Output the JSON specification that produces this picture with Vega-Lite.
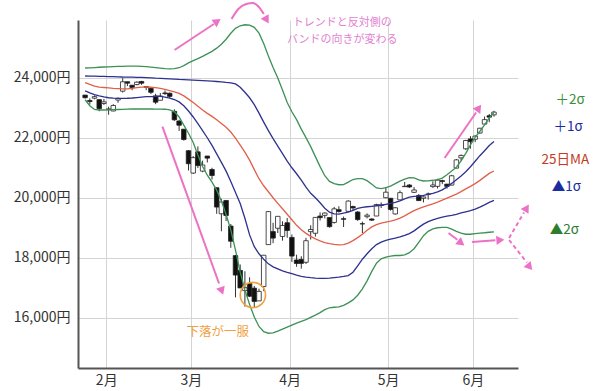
{
  "$schema": "https://vega.github.io/schema/vega-lite/v6.json",
  "width": 440,
  "height": 348,
  "autosize": "none",
  "padding": {"left": 78, "top": 20, "right": 82, "bottom": 23},
  "background": "white",
  "config": {
    "view": {"stroke": null},
    "font": "Noto Sans CJK JP",
    "text": {"font": "Noto Sans CJK JP"},
    "axis": {
      "ticks": false,
      "grid": true,
      "gridColor": "#d4d4d4",
      "gridWidth": 1,
      "domainColor": "#555555",
      "domainWidth": 2,
      "labelFont": "Noto Sans CJK JP",
      "labelFontSize": 14,
      "labelColor": "#333333"
    },
    "axisX": {"labelPadding": 5},
    "axisY": {"labelPadding": 8}
  },
  "datasets": {
    "nikkei": [
      {"date":"2020-01-27","i":0,"o":23431,"h":23431,"l":23316,"c":23343,"up2":24333,"up1":24067,"ma":23849,"dn1":23569,"dn2":23275},
      {"date":"2020-01-28","i":1,"o":23250,"h":23323,"l":23115,"c":23215,"up2":24338,"up1":24063,"ma":23786,"dn1":23503,"dn2":23075},
      {"date":"2020-01-29","i":2,"o":23327,"h":23418,"l":23292,"c":23379,"up2":24348,"up1":24060,"ma":23730,"dn1":23449,"dn2":22951},
      {"date":"2020-01-30","i":3,"o":23279,"h":23290,"l":22892,"c":22977,"up2":24358,"up1":24057,"ma":23699,"dn1":23407,"dn2":22933},
      {"date":"2020-01-31","i":4,"o":23150,"h":23302,"l":23100,"c":23205,"up2":24366,"up1":24053,"ma":23684,"dn1":23369,"dn2":22933},
      {"date":"2020-02-03","i":5,"o":22949,"h":23043,"l":22775,"c":22971,"up2":24373,"up1":24047,"ma":23669,"dn1":23342,"dn2":22936},
      {"date":"2020-02-04","i":6,"o":22901,"h":23127,"l":22892,"c":23084,"up2":24380,"up1":24043,"ma":23655,"dn1":23327,"dn2":22943},
      {"date":"2020-02-05","i":7,"o":23266,"h":23352,"l":23174,"c":23319,"up2":24385,"up1":24040,"ma":23647,"dn1":23323,"dn2":22950},
      {"date":"2020-02-06","i":8,"o":23561,"h":23995,"l":23515,"c":23873,"up2":24390,"up1":24033,"ma":23640,"dn1":23323,"dn2":22956},
      {"date":"2020-02-07","i":9,"o":23875,"h":23875,"l":23729,"c":23827,"up2":24395,"up1":24030,"ma":23638,"dn1":23325,"dn2":22963},
      {"date":"2020-02-10","i":10,"o":23760,"h":23760,"l":23591,"c":23685,"up2":24398,"up1":24027,"ma":23652,"dn1":23333,"dn2":22967},
      {"date":"2020-02-12","i":11,"o":23781,"h":23886,"l":23758,"c":23861,"up2":24397,"up1":24023,"ma":23679,"dn1":23348,"dn2":22967},
      {"date":"2020-02-13","i":12,"o":23885,"h":23903,"l":23773,"c":23827,"up2":24388,"up1":24020,"ma":23699,"dn1":23364,"dn2":22967},
      {"date":"2020-02-14","i":13,"o":23715,"h":23732,"l":23594,"c":23687,"up2":24377,"up1":24010,"ma":23704,"dn1":23376,"dn2":22967},
      {"date":"2020-02-17","i":14,"o":23659,"h":23659,"l":23465,"c":23523,"up2":24362,"up1":24003,"ma":23692,"dn1":23381,"dn2":22967},
      {"date":"2020-02-18","i":15,"o":23403,"h":23475,"l":23128,"c":23193,"up2":24346,"up1":23993,"ma":23676,"dn1":23385,"dn2":22962},
      {"date":"2020-02-19","i":16,"o":23258,"h":23501,"l":23258,"c":23400,"up2":24329,"up1":23987,"ma":23655,"dn1":23385,"dn2":22960},
      {"date":"2020-02-20","i":17,"o":23502,"h":23584,"l":23435,"c":23479,"up2":24314,"up1":23980,"ma":23622,"dn1":23366,"dn2":22959},
      {"date":"2020-02-21","i":18,"o":23492,"h":23517,"l":23339,"c":23386,"up2":24307,"up1":23970,"ma":23582,"dn1":23330,"dn2":22939},
      {"date":"2020-02-25","i":19,"o":22888,"h":22955,"l":22573,"c":22605,"up2":24313,"up1":23963,"ma":23540,"dn1":23282,"dn2":22871},
      {"date":"2020-02-26","i":20,"o":22566,"h":22608,"l":22236,"c":22426,"up2":24342,"up1":23953,"ma":23486,"dn1":23204,"dn2":22702},
      {"date":"2020-02-27","i":21,"o":22294,"h":22295,"l":21914,"c":21948,"up2":24413,"up1":23947,"ma":23404,"dn1":23073,"dn2":22429},
      {"date":"2020-02-28","i":22,"o":21577,"h":21598,"l":20916,"c":21142,"up2":24505,"up1":23940,"ma":23296,"dn1":22899,"dn2":22159},
      {"date":"2020-03-02","i":23,"o":20831,"h":21398,"l":20805,"c":21344,"up2":24581,"up1":23930,"ma":23180,"dn1":22700,"dn2":21849},
      {"date":"2020-03-03","i":24,"o":21539,"h":21719,"l":21000,"c":21082,"up2":24647,"up1":23923,"ma":23055,"dn1":22476,"dn2":21434},
      {"date":"2020-03-04","i":25,"o":20897,"h":21245,"l":20859,"c":21100,"up2":24721,"up1":23913,"ma":22930,"dn1":22243,"dn2":21047},
      {"date":"2020-03-05","i":26,"o":21399,"h":21399,"l":21185,"c":21329,"up2":24805,"up1":23903,"ma":22821,"dn1":22009,"dn2":20760},
      {"date":"2020-03-06","i":27,"o":20950,"h":21008,"l":20613,"c":20749,"up2":24888,"up1":23893,"ma":22721,"dn1":21753,"dn2":20526},
      {"date":"2020-03-09","i":28,"o":20343,"h":20347,"l":19472,"c":19698,"up2":24995,"up1":23883,"ma":22605,"dn1":21470,"dn2":20262},
      {"date":"2020-03-10","i":29,"o":19474,"h":19970,"l":18891,"c":19867,"up2":25128,"up1":23873,"ma":22480,"dn1":21186,"dn2":19901},
      {"date":"2020-03-11","i":30,"o":19918,"h":19918,"l":19232,"c":19416,"up2":25292,"up1":23854,"ma":22355,"dn1":20895,"dn2":19452},
      {"date":"2020-03-12","i":31,"o":19064,"h":19133,"l":18339,"c":18559,"up2":25492,"up1":23841,"ma":22199,"dn1":20549,"dn2":18939},
      {"date":"2020-03-13","i":32,"o":18080,"h":18100,"l":16690,"c":17431,"up2":25654,"up1":23803,"ma":21993,"dn1":20180,"dn2":18265},
      {"date":"2020-03-16","i":33,"o":17587,"h":17785,"l":17002,"c":17002,"up2":25740,"up1":23690,"ma":21759,"dn1":19816,"dn2":17527},
      {"date":"2020-03-17","i":34,"o":16914,"h":17557,"l":16378,"c":17011,"up2":25774,"up1":23523,"ma":21526,"dn1":19324,"dn2":16937},
      {"date":"2020-03-18","i":35,"o":17153,"h":17359,"l":16698,"c":16726,"up2":25760,"up1":23341,"ma":21262,"dn1":18770,"dn2":16452},
      {"date":"2020-03-19","i":36,"o":16995,"h":17071,"l":16358,"c":16552,"up2":25687,"up1":23111,"ma":20947,"dn1":18377,"dn2":16031},
      {"date":"2020-03-23","i":37,"o":16570,"h":16978,"l":16570,"c":16887,"up2":25495,"up1":22829,"ma":20644,"dn1":18141,"dn2":15718},
      {"date":"2020-03-24","i":38,"o":17051,"h":18100,"l":16896,"c":18092,"up2":25149,"up1":22529,"ma":20408,"dn1":17957,"dn2":15545},
      {"date":"2020-03-25","i":39,"o":18446,"h":19564,"l":18446,"c":19546,"up2":24734,"up1":22244,"ma":20208,"dn1":17805,"dn2":15492},
      {"date":"2020-03-26","i":40,"o":18880,"h":19174,"l":18494,"c":18664,"up2":24347,"up1":21977,"ma":20008,"dn1":17703,"dn2":15506},
      {"date":"2020-03-27","i":41,"o":18992,"h":19389,"l":18832,"c":19389,"up2":23998,"up1":21726,"ma":19823,"dn1":17636,"dn2":15564},
      {"date":"2020-03-30","i":42,"o":18719,"h":19223,"l":18578,"c":19084,"up2":23601,"up1":21477,"ma":19641,"dn1":17569,"dn2":15631},
      {"date":"2020-03-31","i":43,"o":19175,"h":19336,"l":18675,"c":18917,"up2":23183,"up1":21226,"ma":19457,"dn1":17518,"dn2":15697},
      {"date":"2020-04-01","i":44,"o":18686,"h":18784,"l":17871,"c":18065,"up2":22875,"up1":21008,"ma":19275,"dn1":17477,"dn2":15764},
      {"date":"2020-04-02","i":45,"o":17934,"h":18110,"l":17707,"c":17818,"up2":22613,"up1":20808,"ma":19090,"dn1":17427,"dn2":15831},
      {"date":"2020-04-03","i":46,"o":17951,"h":18059,"l":17646,"c":17820,"up2":22295,"up1":20593,"ma":18939,"dn1":17388,"dn2":15890},
      {"date":"2020-04-06","i":47,"o":17857,"h":18672,"l":17802,"c":18576,"up2":22011,"up1":20359,"ma":18821,"dn1":17364,"dn2":15947},
      {"date":"2020-04-07","i":48,"o":18878,"h":19091,"l":18616,"c":18950,"up2":21713,"up1":20157,"ma":18721,"dn1":17344,"dn2":16022},
      {"date":"2020-04-08","i":49,"o":18824,"h":19353,"l":18713,"c":19353,"up2":21380,"up1":20006,"ma":18636,"dn1":17328,"dn2":16097},
      {"date":"2020-04-09","i":50,"o":19398,"h":19519,"l":19250,"c":19345,"up2":21047,"up1":19841,"ma":18569,"dn1":17323,"dn2":16179},
      {"date":"2020-04-10","i":51,"o":19422,"h":19521,"l":19319,"c":19498,"up2":20744,"up1":19657,"ma":18513,"dn1":17323,"dn2":16279},
      {"date":"2020-04-13","i":52,"o":19348,"h":19348,"l":19015,"c":19043,"up2":20554,"up1":19528,"ma":18479,"dn1":17331,"dn2":16341},
      {"date":"2020-04-14","i":53,"o":19185,"h":19704,"l":19145,"c":19638,"up2":20477,"up1":19468,"ma":18455,"dn1":17348,"dn2":16358},
      {"date":"2020-04-15","i":54,"o":19610,"h":19726,"l":19510,"c":19550,"up2":20442,"up1":19465,"ma":18437,"dn1":17364,"dn2":16374},
      {"date":"2020-04-16","i":55,"o":19310,"h":19380,"l":19033,"c":19290,"up2":20449,"up1":19499,"ma":18449,"dn1":17385,"dn2":16422},
      {"date":"2020-04-17","i":56,"o":19555,"h":19922,"l":19555,"c":19897,"up2":20528,"up1":19532,"ma":18497,"dn1":17415,"dn2":16505},
      {"date":"2020-04-20","i":57,"o":19715,"h":19745,"l":19565,"c":19669,"up2":20615,"up1":19588,"ma":18579,"dn1":17525,"dn2":16604},
      {"date":"2020-04-21","i":58,"o":19533,"h":19563,"l":19239,"c":19280,"up2":20649,"up1":19656,"ma":18679,"dn1":17741,"dn2":16759},
      {"date":"2020-04-22","i":59,"o":19142,"h":19212,"l":18830,"c":19137,"up2":20644,"up1":19691,"ma":18795,"dn1":17959,"dn2":16974},
      {"date":"2020-04-23","i":60,"o":19377,"h":19486,"l":19322,"c":19429,"up2":20578,"up1":19708,"ma":18928,"dn1":18143,"dn2":17238},
      {"date":"2020-04-24","i":61,"o":19300,"h":19327,"l":19233,"c":19262,"up2":20457,"up1":19724,"ma":19038,"dn1":18310,"dn2":17553},
      {"date":"2020-04-27","i":62,"o":19399,"h":19808,"l":19399,"c":19783,"up2":20336,"up1":19741,"ma":19109,"dn1":18446,"dn2":17825},
      {"date":"2020-04-28","i":63,"o":19750,"h":19853,"l":19667,"c":19771,"up2":20315,"up1":19758,"ma":19160,"dn1":18531,"dn2":17972},
      {"date":"2020-04-30","i":64,"o":20010,"h":20365,"l":19993,"c":20193,"up2":20349,"up1":19790,"ma":19199,"dn1":18590,"dn2":18032},
      {"date":"2020-05-01","i":65,"o":19991,"h":20000,"l":19580,"c":19619,"up2":20397,"up1":19824,"ma":19232,"dn1":18632,"dn2":18065},
      {"date":"2020-05-07","i":66,"o":19468,"h":19690,"l":19448,"c":19674,"up2":20479,"up1":19853,"ma":19273,"dn1":18665,"dn2":18083},
      {"date":"2020-05-08","i":67,"o":19938,"h":20251,"l":19938,"c":20179,"up2":20564,"up1":19907,"ma":19331,"dn1":18706,"dn2":18083},
      {"date":"2020-05-11","i":68,"o":20378,"h":20534,"l":20378,"c":20390,"up2":20631,"up1":19972,"ma":19405,"dn1":18756,"dn2":18106},
      {"date":"2020-05-12","i":69,"o":20432,"h":20467,"l":20336,"c":20366,"up2":20682,"up1":20027,"ma":19496,"dn1":18814,"dn2":18179},
      {"date":"2020-05-13","i":70,"o":20189,"h":20364,"l":20167,"c":20267,"up2":20669,"up1":20053,"ma":19581,"dn1":18904,"dn2":18310},
      {"date":"2020-05-14","i":71,"o":20085,"h":20132,"l":19902,"c":19914,"up2":20603,"up1":20064,"ma":19647,"dn1":19020,"dn2":18523},
      {"date":"2020-05-15","i":72,"o":19990,"h":20052,"l":19853,"c":20037,"up2":20567,"up1":20089,"ma":19706,"dn1":19129,"dn2":18743},
      {"date":"2020-05-18","i":73,"o":20126,"h":20183,"l":19948,"c":20133,"up2":20574,"up1":20122,"ma":19756,"dn1":19214,"dn2":18887},
      {"date":"2020-05-19","i":74,"o":20379,"h":20556,"l":20337,"c":20433,"up2":20591,"up1":20158,"ma":19806,"dn1":19273,"dn2":18973},
      {"date":"2020-05-20","i":75,"o":20389,"h":20641,"l":20316,"c":20595,"up2":20615,"up1":20204,"ma":19864,"dn1":19318,"dn2":19008},
      {"date":"2020-05-21","i":76,"o":20578,"h":20609,"l":20462,"c":20552,"up2":20664,"up1":20272,"ma":19931,"dn1":19360,"dn2":19024},
      {"date":"2020-05-22","i":77,"o":20463,"h":20463,"l":20314,"c":20388,"up2":20777,"up1":20370,"ma":19997,"dn1":19397,"dn2":19018},
      {"date":"2020-05-25","i":78,"o":20430,"h":20770,"l":20421,"c":20741,"up2":20897,"up1":20487,"ma":20064,"dn1":19422,"dn2":18962},
      {"date":"2020-05-26","i":79,"o":20995,"h":21299,"l":20995,"c":21271,"up2":21025,"up1":20611,"ma":20131,"dn1":19456,"dn2":18886},
      {"date":"2020-05-27","i":80,"o":21338,"h":21451,"l":21241,"c":21419,"up2":21241,"up1":20737,"ma":20213,"dn1":19501,"dn2":18827},
      {"date":"2020-05-28","i":81,"o":21641,"h":21938,"l":21603,"c":21916,"up2":21489,"up1":20877,"ma":20305,"dn1":19540,"dn2":18792},
      {"date":"2020-05-29","i":82,"o":21969,"h":22062,"l":21646,"c":21877,"up2":21771,"up1":21043,"ma":20388,"dn1":19578,"dn2":18791},
      {"date":"2020-06-01","i":83,"o":21957,"h":22093,"l":21862,"c":22062,"up2":22025,"up1":21225,"ma":20479,"dn1":19631,"dn2":18811},
      {"date":"2020-06-02","i":84,"o":22166,"h":22338,"l":22145,"c":22325,"up2":22225,"up1":21410,"ma":20587,"dn1":19697,"dn2":18828},
      {"date":"2020-06-03","i":85,"o":22464,"h":22713,"l":22464,"c":22613,"up2":22441,"up1":21577,"ma":20704,"dn1":19772,"dn2":18841},
      {"date":"2020-06-04","i":86,"o":22742,"h":22800,"l":22528,"c":22695,"up2":22674,"up1":21751,"ma":20820,"dn1":19855,"dn2":18858},
      {"date":"2020-06-05","i":87,"o":22772,"h":22907,"l":22712,"c":22863,"up2":22850,"up1":21880,"ma":20900,"dn1":19920,"dn2":18870}
    ],
    "arrowsSolid": [
      {"i":19.03,"v":24933,"i2":27.4,"v2":25800},
      {"i":16.45,"v":22377,"i2":28.5,"v2":17150},
      {"i":76.5,"v":21333,"i2":83.2,"v2":22850},
      {"i":77.33,"v":18833,"i2":79.2,"v2":18610},
      {"i":82.32,"v":18533,"i2":87.3,"v2":18590}
    ],
    "arrowsDashed": [
      {"i":90.22,"v":18667,"i2":93.4,"v2":19520},
      {"i":90.22,"v":18600,"i2":94.0,"v2":17850}
    ],
    "curve": [
      {"i":31.16,"v":25967},
      {"i":32.61,"v":26300},
      {"i":34.28,"v":26467},
      {"i":35.73,"v":26500},
      {"i":36.98,"v":26367},
      {"i":38.02,"v":26133}
    ],
    "bandLabels": [
      {"i":103.2,"v":23267,"t":"＋2σ"},
      {"i":102.8,"v":22367,"t":"＋1σ"},
      {"i":102.2,"v":21267,"t":"25日MA"},
      {"i":102.4,"v":20367,"t":"▲1σ"},
      {"i":102.0,"v":18933,"t":"▲2σ"}
    ],
    "note": [
      {"i":54.7,"v":25833,"t":"トレンドと反対側の"},
      {"i":54.7,"v":25267,"t":"バンドの向きが変わる"}
    ]
  },
  "encoding": {
    "x": {
      "field": "i", "type": "quantitative",
      "scale": {"domain": [-0.45, 91.05], "nice": false, "zero": false},
      "axis": {
        "title": null,
        "values": [4.5, 22.5, 43.5, 64.5, 82.5],
        "labelExpr": "datum.value < 10 ? '2月' : datum.value < 30 ? '3月' : datum.value < 50 ? '4月' : datum.value < 70 ? '5月' : '6月'"
      }
    }
  },
  "layer": [
    {
      "data": {"name": "nikkei"},
      "mark": {"type": "rule", "color": "#333333", "strokeWidth": 1},
      "encoding": {
        "y": {
          "field": "l", "type": "quantitative",
          "scale": {"domain": [14333.3, 25933.3], "nice": false, "zero": false},
          "axis": {
            "title": null,
            "values": [16000, 18000, 20000, 22000, 24000],
            "format": ",d",
            "labelExpr": "datum.label + '円'"
          }
        },
        "y2": {"field": "h"}
      }
    },
    {
      "data": {"name": "nikkei"},
      "mark": {"type": "bar", "size": 4.5, "stroke": "#222222", "strokeWidth": 0.8},
      "encoding": {
        "y": {"field": "o", "type": "quantitative"},
        "y2": {"field": "c"},
        "fill": {"condition": {"test": "datum.c >= datum.o", "value": "white"}, "value": "#111111"}
      }
    },
    {
      "data": {"name": "nikkei"},
      "mark": {"type": "line", "color": "#3c9155", "strokeWidth": 1.3},
      "encoding": {"y": {"field": "up2", "type": "quantitative"}}
    },
    {
      "data": {"name": "nikkei"},
      "mark": {"type": "line", "color": "#2e318f", "strokeWidth": 1.3},
      "encoding": {"y": {"field": "up1", "type": "quantitative"}}
    },
    {
      "data": {"name": "nikkei"},
      "mark": {"type": "line", "color": "#e0604a", "strokeWidth": 1.3},
      "encoding": {"y": {"field": "ma", "type": "quantitative"}}
    },
    {
      "data": {"name": "nikkei"},
      "mark": {"type": "line", "color": "#2e318f", "strokeWidth": 1.3},
      "encoding": {"y": {"field": "dn1", "type": "quantitative"}}
    },
    {
      "data": {"name": "nikkei"},
      "mark": {"type": "line", "color": "#3c9155", "strokeWidth": 1.3},
      "encoding": {"y": {"field": "dn2", "type": "quantitative"}}
    },
    {
      "data": {"name": "arrowsSolid"},
      "mark": {"type": "rule", "color": "#ec72c6", "strokeWidth": 2},
      "encoding": {
        "y": {"field": "v", "type": "quantitative"},
        "x2": {"field": "i2"},
        "y2": {"field": "v2"}
      }
    },
    {
      "data": {"name": "arrowsDashed"},
      "mark": {"type": "rule", "color": "#ec72c6", "strokeWidth": 2, "strokeDash": [4, 3]},
      "encoding": {
        "y": {"field": "v", "type": "quantitative"},
        "x2": {"field": "i2"},
        "y2": {"field": "v2"}
      }
    },
    {
      "data": {"name": "curve"},
      "mark": {"type": "line", "color": "#ec72c6", "strokeWidth": 2, "interpolate": "monotone"},
      "encoding": {"y": {"field": "v", "type": "quantitative"}}
    },
    {"data": {"values": [{"i": 28.14, "v": 25890}]}, "mark": {"type": "point", "shape": "triangle-up", "filled": true, "color": "#ec72c6", "opacity": 1, "size": 85, "angle": 56}, "encoding": {"y": {"field": "v", "type": "quantitative"}}},
    {"data": {"values": [{"i": 38.64, "v": 25933}]}, "mark": {"type": "point", "shape": "triangle-up", "filled": true, "color": "#ec72c6", "opacity": 1, "size": 85, "angle": 150}, "encoding": {"y": {"field": "v", "type": "quantitative"}}},
    {"data": {"values": [{"i": 29.08, "v": 16900}]}, "mark": {"type": "point", "shape": "triangle-up", "filled": true, "color": "#ec72c6", "opacity": 1, "size": 85, "angle": 160}, "encoding": {"y": {"field": "v", "type": "quantitative"}}},
    {"data": {"values": [{"i": 83.78, "v": 23000}]}, "mark": {"type": "point", "shape": "triangle-up", "filled": true, "color": "#ec72c6", "opacity": 1, "size": 85, "angle": 35}, "encoding": {"y": {"field": "v", "type": "quantitative"}}},
    {"data": {"values": [{"i": 80.03, "v": 18500}]}, "mark": {"type": "point", "shape": "triangle-up", "filled": true, "color": "#ec72c6", "opacity": 1, "size": 85, "angle": 128}, "encoding": {"y": {"field": "v", "type": "quantitative"}}},
    {"data": {"values": [{"i": 88.36, "v": 18600}]}, "mark": {"type": "point", "shape": "triangle-up", "filled": true, "color": "#ec72c6", "opacity": 1, "size": 85, "angle": 86}, "encoding": {"y": {"field": "v", "type": "quantitative"}}},
    {"data": {"values": [{"i": 93.97, "v": 19667}]}, "mark": {"type": "point", "shape": "triangle-up", "filled": true, "color": "#ec72c6", "opacity": 1, "size": 85, "angle": 32}, "encoding": {"y": {"field": "v", "type": "quantitative"}}},
    {"data": {"values": [{"i": 94.6, "v": 17700}]}, "mark": {"type": "point", "shape": "triangle-up", "filled": true, "color": "#ec72c6", "opacity": 1, "size": 85, "angle": 140}, "encoding": {"y": {"field": "v", "type": "quantitative"}}},
    {
      "data": {"values": [{"i": 35.7, "v": 16767}]},
      "mark": {"type": "point", "shape": "circle", "filled": false, "stroke": "#f0a040", "strokeWidth": 1.6, "opacity": 1, "size": 640},
      "encoding": {"y": {"field": "v", "type": "quantitative"}}
    },
    {
      "data": {"values": [{"i": 28.2, "v": 15543, "t": "下落が一服"}]},
      "mark": {"type": "text", "color": "#f0a040", "fontSize": 12.5, "align": "center", "baseline": "middle"},
      "encoding": {"y": {"field": "v", "type": "quantitative"}, "text": {"field": "t"}}
    },
    {
      "data": {"name": "note"},
      "mark": {"type": "text", "color": "#e27fcf", "fontSize": 11, "align": "center", "baseline": "middle"},
      "encoding": {"y": {"field": "v", "type": "quantitative"}, "text": {"field": "t"}}
    },
    {
      "data": {"name": "bandLabels"},
      "mark": {"type": "text", "fontSize": 13.5, "align": "center", "baseline": "middle"},
      "encoding": {
        "y": {"field": "v", "type": "quantitative"},
        "text": {"field": "t"},
        "color": {
          "field": "t", "type": "nominal", "legend": null,
          "scale": {"domain": ["＋2σ", "＋1σ", "25日MA", "▲1σ", "▲2σ"], "range": ["#3a8f3a", "#1c2a9c", "#c23b22", "#1a2ca0", "#2d7d2d"]}
        }
      }
    }
  ]
}
